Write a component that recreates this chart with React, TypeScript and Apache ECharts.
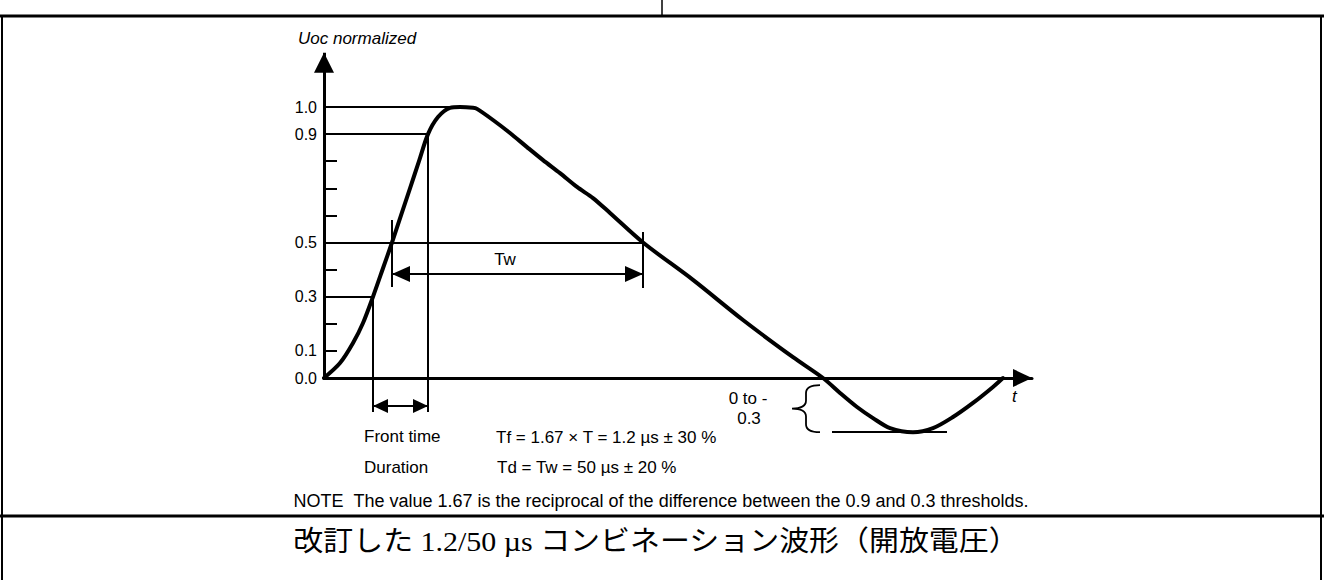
import React, { useEffect, useRef } from 'react';
import * as echarts from 'echarts';

const SANS = '"Liberation Sans", Arial, Helvetica, sans-serif';
const CAPTION_FONT = '"Liberation Serif", "Noto Sans CJK JP", serif';

// Combination-wave open-circuit voltage, normalised, against time (drawing units)
const waveTime = [
  0, 1.6, 2.9, 3.9, 4.9, 5.9, 6.8, 7.7, 8.6, 9.5, 10.4, 11.4, 12.6, 13.6, 14.9, 15.3,
  16.9, 18.6, 20.3, 21.9, 23.6, 25.3, 26.9, 28.6, 31.9, 36.9, 41.9, 46.9, 49.9,
  51.6, 53.3, 54.9, 56.6, 58.9, 60.9, 62.9, 64.9, 66.9, 67.9,
];
const waveVolt = [
  0, 0.055, 0.129, 0.203, 0.3, 0.405, 0.5, 0.6, 0.7, 0.8, 0.9, 0.963, 0.997, 1.0, 0.997, 0.993,
  0.952, 0.904, 0.852, 0.804, 0.756, 0.705, 0.664, 0.609, 0.5, 0.362, 0.214, 0.077, 0,
  -0.055, -0.107, -0.148, -0.185, -0.2, -0.185, -0.144, -0.092, -0.033, 0,
];

// Axis ranges and labelling
const timeRange = [0, 70.8];
const voltRange = [-0.3, 1.2];
const yLabelValues = [0, 0.1, 0.3, 0.5, 0.9, 1.0];
const yTickValues = [0.1, 0.2, 0.4, 0.6, 0.7, 0.8];

// Threshold crossings of the waveform: [time, level]
const point30 = [4.9, 0.3];
const point50Rise = [6.8, 0.5];
const point90 = [10.4, 0.9];
const pointPeak = [13.2, 1.0];
const point50Fall = [31.9, 0.5];

// Dimension markers
const frontGuideBottom = -0.125;
const frontArrowLevel = -0.103;
const twArrowLevel = 0.384;
const twTickLeft = [0.583, 0.336];
const twTickRight = [0.539, 0.332];
const undershootLevel = -0.2;
const undershootSpan = [50.8, 62.3];
const undershootBrace = [49.6, -0.026, -0.2, 46.8]; // time, top, bottom, tip time

// Texts
const yAxisTitle = 'Uoc normalized';
const xAxisTitle = 't';
const twLabel = 'Tw';
const undershootLabel = ['0 to -', '0.3'];
const frontTimeLabel = 'Front time';
const frontTimeFormula = 'Tf = 1.67 × T = 1.2 µs ± 30 %';
const durationLabel = 'Duration';
const durationFormula = 'Td = Tw = 50 µs ± 20 %';
const noteText = 'NOTE\u00a0\u00a0The value 1.67 is the reciprocal of the difference between the 0.9 and 0.3 thresholds.';
const captionText = '改訂した 1.2/50 µs コンビネーション波形（開放電圧）';

const seg = (a: number[], b: number[], extra: any = {}) => [
  { coord: a, ...(extra.from || {}) },
  { coord: b, ...(extra.to || {}) },
];

// arrowheads whose tips sit exactly on the segment ends
const twHead = { symbol: 'triangle', symbolSize: [16, 18], symbolOffset: [0, 9] };
const frontHead = { symbol: 'triangle', symbolSize: [14, 15], symbolOffset: [0, 7.5] };

function buildOption(): any {
  const text = (x: number, y: number, t: string, opts: any = {}, scaleX = 1) => ({
    type: 'text',
    x,
    y,
    scaleX,
    silent: true,
    style: {
      text: t,
      fill: '#000',
      fontFamily: SANS,
      fontSize: 17,
      align: 'left',
      verticalAlign: 'middle',
      ...opts,
    },
  });
  const rule = (x1: number, y1: number, x2: number, y2: number, w: number) => ({
    type: 'line',
    silent: true,
    shape: { x1, y1, x2, y2 },
    style: { stroke: '#000', lineWidth: w },
  });

  return {
    animation: false,
    backgroundColor: '#fff',
    grid: { left: 324, right: 292, top: 52.8, bottom: 120.7, outerBoundsMode: 'none', containLabel: false },
    xAxis: {
      type: 'value',
      min: timeRange[0],
      max: timeRange[1],
      axisLine: {
        show: true,
        onZero: true,
        symbol: ['none', 'triangle'],
        symbolSize: [18, 19],
        symbolOffset: [0, -9.5],
        lineStyle: { color: '#000', width: 3 },
      },
      axisTick: { show: false },
      axisLabel: { show: false },
      splitLine: { show: false },
    },
    yAxis: {
      type: 'value',
      min: voltRange[0],
      max: voltRange[1],
      axisLine: { show: false },
      splitLine: { show: false },
      axisTick: {
        show: true,
        inside: true,
        length: 13,
        customValues: yTickValues,
        lineStyle: { color: '#000', width: 2 },
      },
      axisLabel: {
        show: true,
        customValues: yLabelValues,
        formatter: (v: number) => v.toFixed(1),
        margin: 7,
        fontSize: 16,
        fontFamily: SANS,
        color: '#000',
      },
    },
    series: [
      {
        type: 'line',
        data: waveTime.map((t, i) => [t, waveVolt[i]]),
        smooth: 0.3,
        symbol: 'none',
        showSymbol: false,
        clip: false,
        silent: true,
        color: '#000',
        lineStyle: { color: '#000', width: 4, join: 'round', cap: 'round' },
        markLine: {
          silent: true,
          symbol: ['none', 'none'],
          label: { show: false },
          emphasis: { disabled: true },
          lineStyle: { color: '#000', width: 2, type: 'solid' },
          data: [
            // ordinate with its arrow
            [
              { coord: [0, 0], lineStyle: { width: 3, color: '#000', type: 'solid' } },
              { coord: [0, voltRange[1]], symbol: 'triangle', symbolSize: [20, 20], symbolOffset: [0, 10] },
            ],
            // level guides
            seg([0, pointPeak[1]], pointPeak),
            seg([0, point90[1]], point90),
            seg([0, point50Fall[1]], point50Fall),
            seg([0, point30[1]], point30),
            // front-time guides and dimension
            seg(point30, [point30[0], frontGuideBottom]),
            seg(point90, [point90[0], frontGuideBottom]),
            seg([point30[0], frontArrowLevel], [point90[0], frontArrowLevel], { from: frontHead, to: frontHead }),
            // Tw dimension
            seg([point50Rise[0], twTickLeft[0]], [point50Rise[0], twTickLeft[1]]),
            seg([point50Fall[0], twTickRight[0]], [point50Fall[0], twTickRight[1]]),
            seg([point50Rise[0], twArrowLevel], [point50Fall[0], twArrowLevel], { from: twHead, to: twHead }),
            // undershoot level
            seg([undershootSpan[0], undershootLevel], [undershootSpan[1], undershootLevel]),
          ],
        },
      },
      {
        type: 'custom',
        silent: true,
        clip: false,
        data: [undershootBrace],
        renderItem: (_params: any, api: any) => {
          const t = api.value(0);
          const top = api.coord([t, api.value(1)]);
          const bot = api.coord([t, api.value(2)]);
          const tip = api.coord([api.value(3), (api.value(1) + api.value(2)) / 2]);
          const xm = (top[0] + tip[0]) / 2;
          const ym = tip[1];
          const r = 8;
          const d = [
            `M ${top[0]} ${top[1]}`,
            `Q ${xm} ${top[1]} ${xm} ${top[1] + r}`,
            `L ${xm} ${ym - r}`,
            `Q ${xm} ${ym} ${tip[0]} ${ym}`,
            `Q ${xm} ${ym} ${xm} ${ym + r}`,
            `L ${xm} ${bot[1] - r}`,
            `Q ${xm} ${bot[1]} ${bot[0]} ${bot[1]}`,
          ].join(' ');
          return {
            type: 'path',
            shape: { pathData: d },
            style: { fill: 'none', stroke: '#000', lineWidth: 1.8 },
          };
        },
      },
    ],
    graphic: [
      // page frame
      rule(0, 16, 1324, 16, 3),
      rule(662, 0, 662, 16, 1.5),
      rule(2, 16, 2, 580, 2),
      rule(1321, 16, 1321, 580, 2),
      rule(0, 516, 1324, 516, 3),
      // axis titles
      text(298, 38, yAxisTitle, { fontStyle: 'italic' }),
      text(1012, 396, xAxisTitle, { fontStyle: 'italic' }),
      // dimension labels
      text(505, 259, twLabel, { align: 'center' }),
      text(748, 398, undershootLabel[0], { align: 'center' }),
      text(749, 418, undershootLabel[1], { align: 'center' }),
      text(364, 436, frontTimeLabel),
      text(496, 437, frontTimeFormula),
      text(364, 467, durationLabel),
      text(497, 467, durationFormula),
      text(661, 501, noteText, { align: 'center', fontSize: 18 }),
      text(656, 541, captionText, { align: 'center', fontSize: 28, fontFamily: CAPTION_FONT }, 1.07),
    ],
  };
}

export default function App() {
  const ref = useRef<HTMLDivElement>(null);
  useEffect(() => {
    if (!ref.current) return;
    const chart = echarts.init(ref.current, undefined, { renderer: 'svg' });
    chart.setOption(buildOption());
    return () => chart.dispose();
  }, []);
  return (
    <div
      ref={ref}
      style={{ position: 'absolute', left: 0, top: 0, width: 1324, height: 580, background: '#fff' }}
    />
  );
}
